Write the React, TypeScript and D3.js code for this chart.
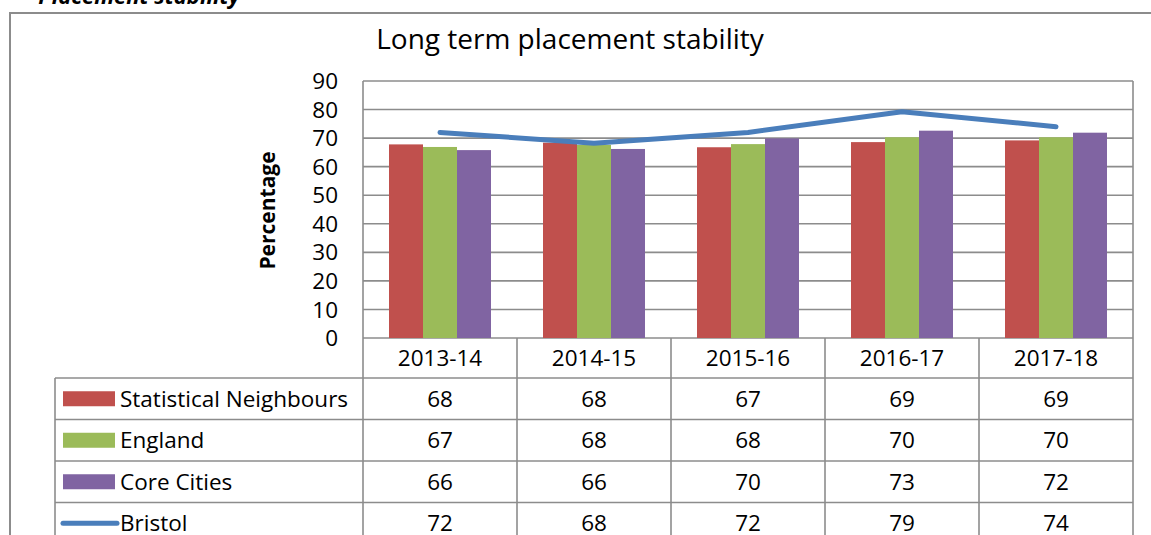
import * as d3 from "d3";

const years = ["2013-14", "2014-15", "2015-16", "2016-17", "2017-18"];
const statNeighbours = [67.8, 68.4, 66.8, 68.6, 69.2];
const england = [66.9, 67.6, 67.9, 70.3, 70.3];
const coreCities = [65.8, 66.2, 69.9, 72.6, 71.9];
const bristol = [72, 68.2, 72, 79.2, 74];
const yTicks = [0, 10, 20, 30, 40, 50, 60, 70, 80, 90];

const barSeries = [
  { name: "Statistical Neighbours", values: statNeighbours, color: "#c0504d" },
  { name: "England", values: england, color: "#9bbb59" },
  { name: "Core Cities", values: coreCities, color: "#8064a2" },
];
const lineColor = "#4a7ebb";
const gridColor = "#8c8c8c";
const font = "'Open Sans', sans-serif";
const fs = 22.5;

export default function App() {
  const W = 1151, H = 535;
  const plot = { left: 363, right: 1133, top: 81, bottom: 338 };
  const rowH = 41.5;
  const headerBottom = 378;
  const legendLeft = 55;

  const x = d3.scaleBand().domain(years).range([plot.left, plot.right]);
  const inner = d3.scaleBand<number>().domain([0, 1, 2]).range([26, x.bandwidth() - 26]);
  const y = d3.scaleLinear().domain([0, 90]).range([plot.bottom, plot.top]);

  const line = d3.line<number>()
    .x((_, i) => (x(years[i]) as number) + x.bandwidth() / 2)
    .y(d => y(d));

  const rows = [
    ...barSeries.map(s => ({ name: s.name, values: s.values, color: s.color, kind: "bar" })),
    { name: "Bristol", values: bristol, color: lineColor, kind: "line" },
  ];

  return (
    <svg width={W} height={H} style={{ position: "absolute", left: 0, top: 0, background: "#fff" }}>
      {/* header text cut off at the top */}
      <text x={240} y={4} textAnchor="end" fontFamily={font} fontWeight="bold" fontStyle="italic" fontSize={22}>Placement stability</text>
      {/* outer chart border */}
      <rect x={10} y={13} width={W} height={H} fill="none" stroke={gridColor} strokeWidth={2} />

      <text x={570} y={49} textAnchor="middle" fontFamily={font} fontSize={28}>Long term placement stability</text>

      {/* gridlines */}
      {yTicks.map(t => (
        <line key={t} x1={plot.left} x2={plot.right} y1={y(t)} y2={y(t)} stroke={gridColor} strokeWidth={1.6} />
      ))}
      <line x1={plot.left} x2={plot.left} y1={plot.top} y2={plot.bottom} stroke={gridColor} strokeWidth={1.6} />
      <line x1={plot.right} x2={plot.right} y1={plot.top} y2={plot.bottom} stroke={gridColor} strokeWidth={1.6} />
      {yTicks.map(t => (
        <text key={t} x={338} y={y(t)} dy="0.36em" textAnchor="end" fontFamily={font} fontSize={fs}>{t}</text>
      ))}
      <text transform={`translate(275, ${(plot.top + plot.bottom) / 2 + 1}) rotate(-90)`} textAnchor="middle" fontFamily={font} fontWeight="bold" fontSize={21}>Percentage</text>

      {/* bars */}
      {barSeries.map((s, si) => s.values.map((v, i) => (
        <rect key={`${si}-${i}`} x={(x(years[i]) as number) + (inner(si) as number)} y={y(v)}
          width={inner.bandwidth()} height={plot.bottom - y(v)} fill={s.color} />
      )))}
      <path d={line(bristol) || ""} fill="none" stroke={lineColor} strokeWidth={5} strokeLinecap="round" strokeLinejoin="round" />

      {/* data table */}
      {years.map(yr => (
        <text key={yr} x={(x(yr) as number) + x.bandwidth() / 2} y={(plot.bottom + headerBottom) / 2} dy="0.36em"
          textAnchor="middle" fontFamily={font} fontSize={fs}>{yr}</text>
      ))}
      {rows.map((r, ri) => {
        const top = headerBottom + ri * rowH;
        const cy = top + rowH / 2;
        return (
          <g key={r.name}>
            {r.kind === "bar"
              ? <rect x={63} y={cy - 7.5} width={52} height={15} fill={r.color} />
              : <line x1={63} x2={117} y1={cy} y2={cy} stroke={r.color} strokeWidth={5} strokeLinecap="round" />}
            <text x={120} y={cy} dy="0.36em" fontFamily={font} fontSize={fs}>{r.name}</text>
            {r.values.map((v, i) => (
              <text key={i} x={(x(years[i]) as number) + x.bandwidth() / 2} y={cy} dy="0.36em"
                textAnchor="middle" fontFamily={font} fontSize={fs}>{Math.round(v)}</text>
            ))}
          </g>
        );
      })}
      {/* table grid */}
      {rows.map((_, ri) => (
        <line key={ri} x1={legendLeft} x2={plot.right} y1={headerBottom + ri * rowH} y2={headerBottom + ri * rowH} stroke={gridColor} strokeWidth={1.6} />
      ))}
      <line x1={legendLeft} x2={legendLeft} y1={headerBottom} y2={H} stroke={gridColor} strokeWidth={1.6} />
      {[...years.map(yr => x(yr) as number), plot.right].map((xv, i) => (
        <line key={i} x1={xv} x2={xv} y1={plot.bottom} y2={H} stroke={gridColor} strokeWidth={1.6} />
      ))}
    </svg>
  );
}
